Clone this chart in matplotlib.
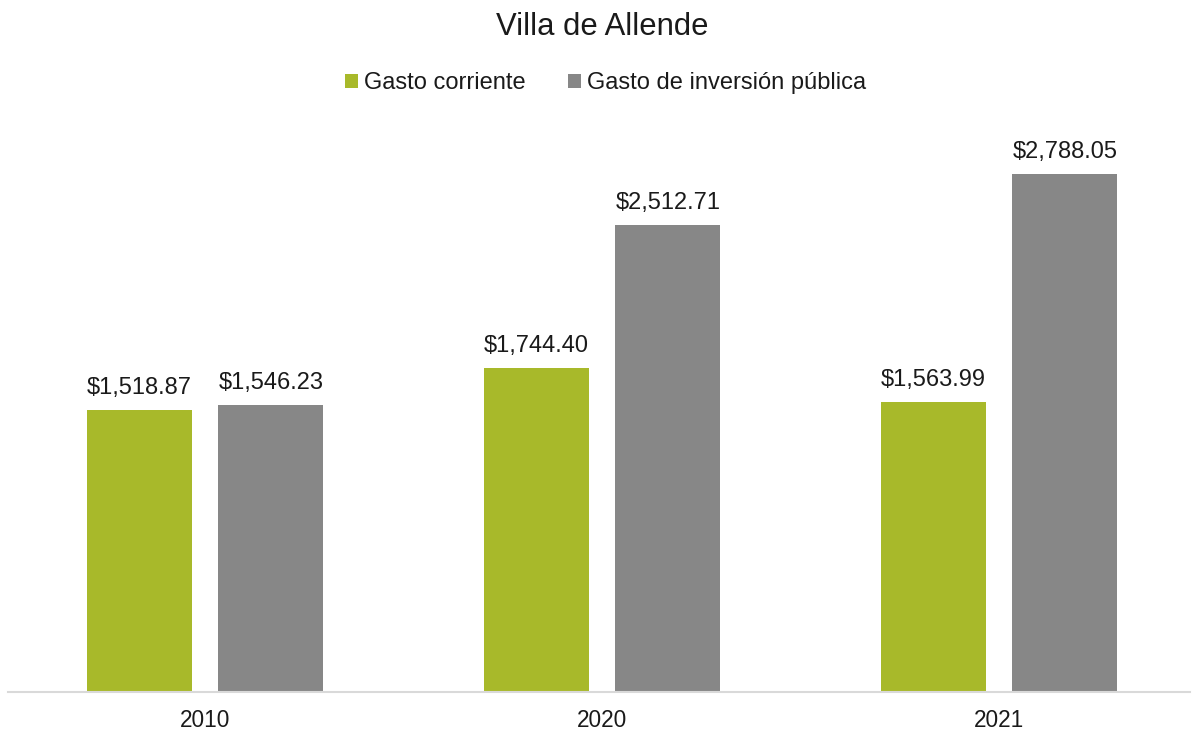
import matplotlib
matplotlib.use("Agg")
import matplotlib.pyplot as plt
import numpy as np

plt.rcParams['font.family'] = ['Liberation Sans', 'DejaVu Sans']

categories = ["2010", "2020", "2021"]
series_names = ["Gasto corriente", "Gasto de inversión pública"]
gasto_corriente = [1518.87, 1744.40, 1563.99]
gasto_inversion = [1546.23, 2512.71, 2788.05]
colors = ["#A8B92A", "#878787"]

fig = plt.figure(figsize=(11.96, 7.33), dpi=100)
ax = fig.add_axes([8/1196, (733-692)/733, 1182/1196, 557/733])

x = np.arange(len(categories))
w = 0.2645
off = 0.166
b1 = ax.bar(x - off, gasto_corriente, w, color=colors[0], label=series_names[0])
b2 = ax.bar(x + off, gasto_inversion, w, color=colors[1], label=series_names[1])

for bars, vals in ((b1, gasto_corriente), (b2, gasto_inversion)):
    for r, v in zip(bars, vals):
        ax.annotate(f"${v:,.2f}", (r.get_x() + r.get_width()/2, v),
                    xytext=(0, 8), textcoords="offset points",
                    ha="center", va="bottom", fontsize=17, color="#1a1a1a")

ax.set_xlim(-0.496, -0.496 + 1182/397)
ax.set_ylim(0, 3000)
ax.set_xticks(x)
ax.set_xticklabels(categories, fontsize=16.3, color="#1a1a1a")
ax.tick_params(axis='x', length=0, pad=12)
ax.set_yticks([])
for s in ("top", "right", "left"):
    ax.spines[s].set_visible(False)
ax.spines["bottom"].set_color("#d9d9d9")
ax.spines["bottom"].set_linewidth(1.5)

fig.text(602.5/1196, 1 - 27/733, "Villa de Allende", ha="center", va="center",
         fontsize=22.3, color="#1a1a1a")
fig.legend(handles=[b1, b2], labels=series_names, loc="center",
           bbox_to_anchor=(605.5/1196, 1 - 83/733), ncol=2, frameon=False,
           fontsize=17, handlelength=0.55, handleheight=0.55,
           handletextpad=0.25, columnspacing=1.8, labelcolor="#1a1a1a")

fig.savefig("out.png", dpi=100)
